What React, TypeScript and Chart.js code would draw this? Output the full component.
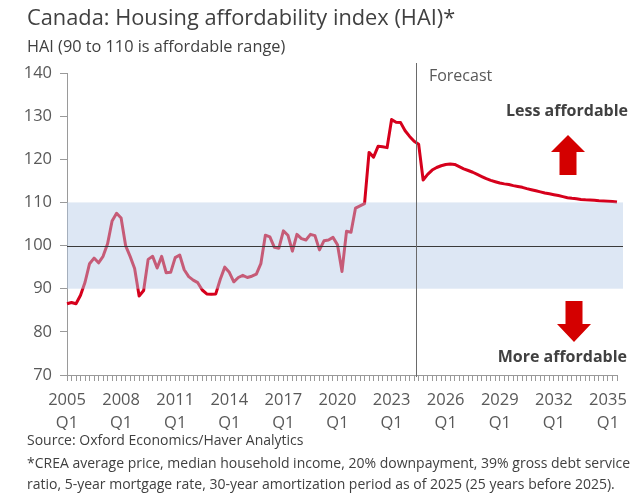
import React, { useEffect, useRef } from 'react';
import { Chart, registerables } from 'chart.js';

Chart.register(...registerables);

// ---- Data ----
const firstYear = 2005;
const lastYear = 2035;
const lastQuarterOfLastYear = 3; // series ends 2035 Q3
const tickYears = ['2005', '2008', '2011', '2014', '2017', '2020', '2023', '2026', '2029', '2032', '2035'];

// Housing affordability index, quarterly from 2005 Q1
const hai2005to2009 = [86.5, 86.8, 86.5, 88.5, 91.5, 95.8, 97.1, 96.0, 97.5, 100.4, 105.7, 107.5, 106.4, 100.0, 97.5, 94.7, 88.3, 89.6, 96.8, 97.5];
const hai2010to2014 = [94.8, 97.5, 93.7, 93.8, 97.2, 97.8, 94.4, 92.8, 92.0, 91.4, 89.7, 88.8, 88.7, 88.8, 92.2, 95.0, 93.8, 91.6, 92.6, 93.1];
const hai2015to2019 = [92.6, 92.9, 93.4, 95.8, 102.4, 102.0, 99.6, 99.4, 103.4, 102.4, 98.7, 102.6, 101.6, 101.3, 102.6, 102.3, 99.0, 101.1, 101.3, 101.9];
const hai2020to2024 = [100.2, 94.0, 103.3, 103.1, 108.7, 109.2, 109.7, 121.6, 120.5, 123.0, 122.9, 122.7, 129.2, 128.6, 128.5, 126.6, 125.3, 124.2, 123.5, 115.2];
const hai2025to2029 = [116.5, 117.5, 118.1, 118.5, 118.8, 118.9, 118.8, 118.3, 117.8, 117.4, 117.0, 116.5, 116.0, 115.5, 115.1, 114.8, 114.5, 114.3, 114.15, 113.9];
const hai2030to2035 = [113.7, 113.5, 113.2, 112.95, 112.7, 112.45, 112.2, 112.0, 111.8, 111.6, 111.35, 111.1, 110.95, 110.85, 110.7, 110.6, 110.55, 110.5, 110.4, 110.35, 110.3, 110.2, 110.1];

const affordableLow = 90;
const affordableHigh = 110;
const parityLevel = 100;
const forecastStartPosition = 77.4; // category position between 2024 Q2 and Q3

const titleText = 'Canada: Housing affordability index (HAI)*';
const subtitleText = 'HAI (90 to 110 is affordable range)';
const footerLines = [
  'Source: Oxford Economics/Haver Analytics',
  '*CREA average price, median household income, 20% downpayment, 39% gross debt service',
  'ratio, 5-year mortgage rate, 30-year amortization period as of 2025 (25 years before 2025).',
];

const FONT = '"Open Sans", "Noto Sans", sans-serif';
const RED = 'rgb(214, 0, 28)';
const TEXT = '#404040';
const TICK_TEXT = '#595959';
const AXIS = '#9a9a9a';

function buildQuarters(): string[] {
  const out: string[] = [];
  for (let y = firstYear; y <= lastYear; y++) {
    for (let q = 1; q <= 4; q++) {
      if (y === lastYear && q > lastQuarterOfLastYear) break;
      out.push(`${y} Q${q}`);
    }
  }
  return out;
}

const decorPlugin = {
  id: 'decor',
  afterDatasetsDraw(chart: any) {
    const { ctx, chartArea, scales } = chart;
    const y = scales.y;
    const x = scales.x;
    ctx.save();
    // affordable band (drawn translucently over the line)
    const top = y.getPixelForValue(affordableHigh);
    const bot = y.getPixelForValue(affordableLow);
    ctx.fillStyle = 'rgba(180, 202, 230, 0.45)';
    ctx.fillRect(chartArea.left, top, chartArea.right - chartArea.left + 6, bot - top);
    // 100 line
    const yp = Math.round(y.getPixelForValue(parityLevel)) + 0.5;
    ctx.strokeStyle = '#3a3a3a';
    ctx.lineWidth = 1;
    ctx.beginPath();
    ctx.moveTo(chartArea.left, yp);
    ctx.lineTo(chartArea.right + 6, yp);
    ctx.stroke();
    // forecast line
    const fx = Math.round(x.getPixelForValue(forecastStartPosition)) + 0.5;
    ctx.strokeStyle = '#6a6a6a';
    ctx.beginPath();
    ctx.moveTo(fx, chartArea.top - 10);
    ctx.lineTo(fx, chartArea.bottom + 2);
    ctx.stroke();
    ctx.restore();
  },
  afterDraw(chart: any) {
    const { ctx, chartArea, scales } = chart;
    const x = scales.x;
    ctx.save();
    ctx.textBaseline = 'middle';
    ctx.textAlign = 'left';
    ctx.fillStyle = TEXT;
    ctx.font = `21.8px ${FONT}`;
    ctx.fillText(titleText, 27, 19);
    ctx.font = `16.3px ${FONT}`;
    ctx.fillText(subtitleText, 27, 47);
    ctx.font = `14px ${FONT}`;
    const footY = [441, 464, 485];
    footerLines.forEach((t, i) => ctx.fillText(t, 27, footY[i]));

    // Forecast label
    const fx = x.getPixelForValue(forecastStartPosition);
    ctx.fillStyle = TICK_TEXT;
    ctx.font = `16px ${FONT}`;
    ctx.fillText('Forecast', fx + 13, 76);

    // Less / More affordable
    ctx.fillStyle = TEXT;
    ctx.font = `bold 16px ${FONT}`;
    ctx.textAlign = 'right';
    ctx.fillText('Less affordable', chartArea.right + 11, 111);
    ctx.fillText('More affordable', chartArea.right + 10, 357);

    // arrows
    ctx.fillStyle = '#d40000';
    const ux = chartArea.right - 49;
    ctx.beginPath();
    ctx.moveTo(ux, 135);
    ctx.lineTo(ux + 17, 152);
    ctx.lineTo(ux + 8.5, 152);
    ctx.lineTo(ux + 8.5, 175);
    ctx.lineTo(ux - 8.5, 175);
    ctx.lineTo(ux - 8.5, 152);
    ctx.lineTo(ux - 17, 152);
    ctx.closePath();
    ctx.fill();
    const dx = chartArea.right - 43;
    ctx.beginPath();
    ctx.moveTo(dx, 342);
    ctx.lineTo(dx + 17, 324);
    ctx.lineTo(dx + 8.5, 324);
    ctx.lineTo(dx + 8.5, 301);
    ctx.lineTo(dx - 8.5, 301);
    ctx.lineTo(dx - 8.5, 324);
    ctx.lineTo(dx - 17, 324);
    ctx.closePath();
    ctx.fill();
    ctx.restore();
  },
};

export default function App() {
  const ref = useRef<HTMLCanvasElement | null>(null);
  useEffect(() => {
    if (!ref.current) return;
    const labels = buildQuarters();
    const values = [
      ...hai2005to2009,
      ...hai2010to2014,
      ...hai2015to2019,
      ...hai2020to2024,
      ...hai2025to2029,
      ...hai2030to2035,
    ];
    const chart = new Chart(ref.current, {
      type: 'line',
      data: {
        labels,
        datasets: [
          {
            data: values,
            borderColor: RED,
            borderWidth: 3,
            pointRadius: 0,
            tension: 0,
            borderJoinStyle: 'round',
            fill: false,
          },
        ],
      },
      options: {
        responsive: false,
        animation: false,
        devicePixelRatio: 1,
        layout: { padding: { left: 0, top: 73, right: 23, bottom: 65 } },
        plugins: { legend: { display: false }, tooltip: { enabled: false }, title: { display: false } },
        scales: {
          x: {
            type: 'category',
            offset: false,
            grid: { drawOnChartArea: false, drawTicks: true, tickLength: 6, color: AXIS, offset: false },
            border: { color: AXIS },
            ticks: {
              autoSkip: false,
              maxRotation: 0,
              minRotation: 0,
              padding: 8,
              color: TICK_TEXT,
              font: { family: FONT, size: 16.5, lineHeight: 1.4 },
              callback: function (this: any, value: any) {
                const lab: string = this.getLabelForValue(value);
                const [yr, q] = lab.split(' ');
                if (q === 'Q1' && tickYears.includes(yr)) return [yr, 'Q1'];
                return '';
              },
            },
            afterFit: (s: any) => {
              s.height = 55;
            },
          },
          y: {
            min: 70,
            max: 140,
            grid: { drawOnChartArea: false, drawTicks: true, tickLength: 7, color: AXIS },
            border: { color: AXIS },
            ticks: { stepSize: 10, padding: 8, color: TICK_TEXT, font: { family: FONT, size: 16.5 } },
            afterFit: (s: any) => {
              s.width = 67;
            },
          },
        },
      },
      plugins: [decorPlugin],
    });
    return () => chart.destroy();
  }, []);
  return (
    <div style={{ position: 'absolute', left: 0, top: 0, width: 640, height: 495, background: '#fff' }}>
      <canvas ref={ref} width={640} height={495} />
    </div>
  );
}
